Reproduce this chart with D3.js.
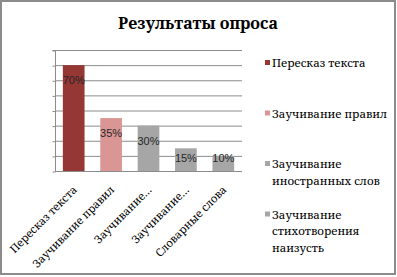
<!DOCTYPE html>
<html>
<head>
<meta charset="utf-8">
<script src="https://cdn.jsdelivr.net/npm/d3@7"></script>
<style>
  body { margin: 0; background: #fff; }
  svg { display: block; }
</style>
</head>
<body>
<div id="chart-container"></div>
<script>
const categories = ["Пересказ текста", "Заучивание правил", "Заучивание иностранных слов", "Заучивание стихотворения наизусть", "Словарные слова"];
const tickLabels = ["Пересказ текста", "Заучивание правил", "Заучивание…", "Заучивание…", "Словарные слова"];
const values = [70, 35, 30, 15, 10];
const legendLines = [["Пересказ текста"], ["Заучивание правил"], ["Заучивание", "иностранных слов"], ["Заучивание", "стихотворения", "наизусть"]];
const yTicks = [0, 10, 20, 30, 40, 50, 60, 70, 80];

const colors = ["#953735", "#d99694", "#a6a6a6", "#a6a6a6", "#a6a6a6"];
const width = 397;
const height = 277;
const margins = { top: 50, right: 155, bottom: 106, left: 55 };
// Liberation Serif here has no Cyrillic, so Noto Serif stands in for Times
const serif = "'Noto Serif', 'DejaVu Serif', serif";

const svg = d3
  .select("#chart-container")
  .append("svg")
  .attr("width", width)
  .attr("height", height);

// outer frame
svg
  .append("rect")
  .attr("x", 1)
  .attr("y", 1)
  .attr("width", 394)
  .attr("height", 273)
  .attr("fill", "#fff")
  .attr("stroke", "#8c8c8c")
  .attr("stroke-width", 2);

svg
  .append("text")
  .text("Результаты опроса")
  .attr("x", 198)
  .attr("y", 29)
  .attr("text-anchor", "middle")
  .style("font-family", serif)
  .style("font-weight", "bold")
  .style("font-size", "16px")
  .attr("fill", "#000");

const xScale = d3
  .scaleBand()
  .domain(categories)
  .range([margins.left, width - margins.right])
  .paddingInner(0.42)
  .paddingOuter(0.21);

const yScale = d3
  .scaleLinear()
  .domain([0, 80])
  .range([height - margins.bottom, margins.top]);

// gridlines
svg
  .append("g")
  .selectAll("line")
  .data(yTicks.slice(1))
  .enter()
  .append("line")
  .attr("x1", margins.left)
  .attr("x2", width - margins.right)
  .attr("y1", d => yScale(d) + 0.5)
  .attr("y2", d => yScale(d) + 0.5)
  .attr("stroke", "#8c8c8c");

// y axis with outside ticks, no labels
const yAxis = d3.axisLeft(yScale).tickValues(yTicks).tickSize(3).tickFormat("");
const yG = svg
  .append("g")
  .attr("transform", `translate(${margins.left + 0.5}, 0.5)`)
  .call(yAxis);
yG.selectAll("path, line").attr("stroke", "#8c8c8c");
yG.select(".domain").attr("d", `M-3,${yScale(80)}H0V${yScale(0)}`);

// bars
svg
  .append("g")
  .selectAll("rect")
  .data(values)
  .enter()
  .append("rect")
  .attr("x", (d, i) => xScale(categories[i]))
  .attr("y", d => yScale(d))
  .attr("width", xScale.bandwidth())
  .attr("height", d => yScale(0) - yScale(d))
  .attr("fill", (d, i) => colors[i]);

// x axis
const xAxis = d3.axisBottom(xScale).tickSize(0).tickFormat((d, i) => tickLabels[i]);
const xG = svg
  .append("g")
  .attr("transform", `translate(0, ${yScale(0) + 0.5})`)
  .call(xAxis);
xG.select(".domain").attr("stroke", "#8c8c8c").attr("d", `M${margins.left},0H${width - margins.right}`);
xG.selectAll("text")
  .attr("text-anchor", "end")
  .attr("dy", null)
  .attr("y", 0)
  .attr("transform", "translate(4, 19) rotate(-45)")
  .style("font-family", serif)
  .style("font-size", "11px")
  .attr("fill", "#000");

// value labels
svg
  .append("g")
  .selectAll("text")
  .data(values)
  .enter()
  .append("text")
  .text(d => d + "%")
  .attr("x", (d, i) => xScale(categories[i]) + xScale.bandwidth() / 2)
  .attr("y", d => Math.min(yScale(d) + 19, yScale(0) - 9))
  .attr("text-anchor", "middle")
  .style("font-family", "'Liberation Sans', Arial, sans-serif")
  .style("font-size", "11px")
  .attr("fill", "#262626");

// legend
const legend = svg
  .append("g")
  .selectAll("g")
  .data(legendLines)
  .enter()
  .append("g")
  .attr("transform", (d, i) => `translate(265, ${67 + i * 50.5})`);

legend
  .append("rect")
  .attr("x", 0)
  .attr("y", -7)
  .attr("width", 5)
  .attr("height", 5)
  .attr("fill", (d, i) => colors[i]);

legend
  .append("text")
  .attr("x", 7)
  .style("font-family", serif)
  .style("font-size", "11.5px")
  .attr("fill", "#000")
  .selectAll("tspan")
  .data(d => d)
  .enter()
  .append("tspan")
  .attr("x", 7)
  .attr("y", (d, i) => i * 16.5)
  .text(d => d);
</script>
</body>
</html>
